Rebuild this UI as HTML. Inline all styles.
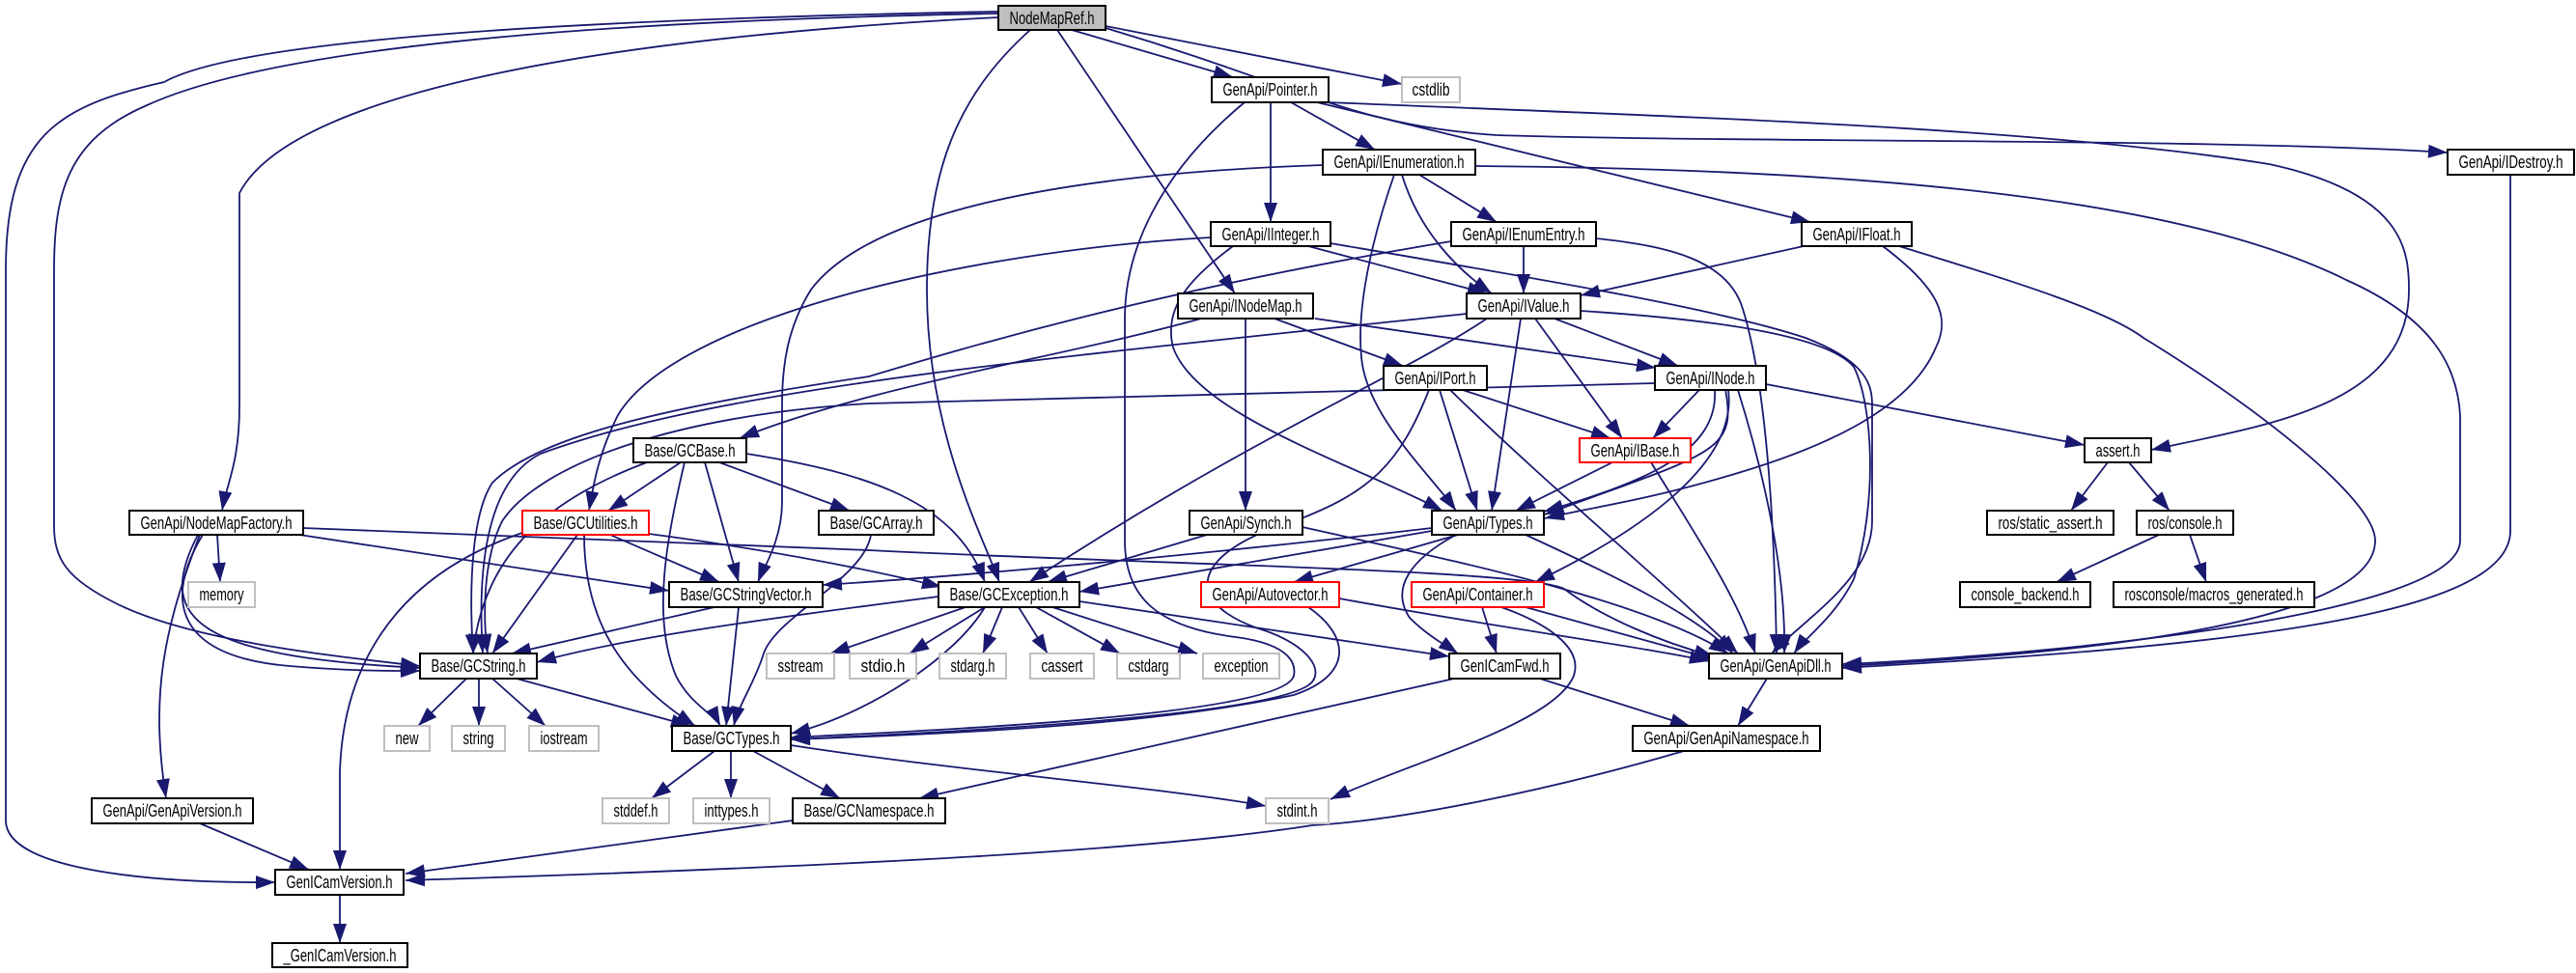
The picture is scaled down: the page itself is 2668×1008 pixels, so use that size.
<!DOCTYPE html>
<html><head><meta charset="utf-8"><style>
html,body{margin:0;padding:0;background:#fff;}
svg{display:block;}
text{font-family:"Liberation Sans Narrow","Liberation Sans",sans-serif;font-size:18px;fill:#000;}
.e{fill:none;stroke:#191970;stroke-width:1.8;marker-end:url(#a);}
.n{fill:#fff;stroke:#000;stroke-width:2;}
.g{fill:#fff;stroke:#bfbfbf;stroke-width:2;}
.r{fill:#fff;stroke:#ff0000;stroke-width:2;}
</style></head><body>
<svg width="2668" height="1008" viewBox="0 0 2668 1008" xmlns="http://www.w3.org/2000/svg">
<defs><marker id="a" markerUnits="userSpaceOnUse" markerWidth="22" markerHeight="16" refX="20" refY="7" orient="auto"><path d="M0,0 L20,7 L0,14 z" fill="#191970"/></marker></defs>
<g>
<path class="e" d="M1110 31 L1277 80"/>
<path class="e" d="M1145 27 L1452 87"/>
<path class="e" d="M1145 29 C1350 90 1400 130 1550 140 C1800 148 2300 143 2535 158"/>
<path class="e" d="M1376 106 C1700 120 2100 130 2350 170 C2490 200 2495 260 2495 300 C2495 420 2350 440 2228 466"/>
<path class="e" d="M1095 31 L1279 304"/>
<path class="e" d="M1067 31 C990 100 960 180 960 300 C960 450 1020 560 1035 603"/>
<path class="e" d="M1034 14 C700 20 300 40 150 110 C70 145 56 200 56 280 L56 545 C56 580 70 600 120 625 C200 665 350 680 435 690"/>
<path class="e" d="M1034 12 C600 20 250 40 170 85 C60 110 6 140 6 280 L6 850 C6 900 150 915 285 914"/>
<path class="e" d="M1034 18 C600 40 300 100 248 200 L248 420 C248 480 235 500 230 529"/>
<path class="e" d="M1337 106 L1424 155"/>
<path class="e" d="M1316 106 L1316 230"/>
<path class="e" d="M1364 106 L1875 230"/>
<path class="e" d="M1289 106 C1200 180 1165 260 1165 330 L1165 560 C1165 620 1200 650 1280 660 C1340 668 1342 690 1340 700 C1330 740 1000 755 819 764"/>
<path class="e" d="M1370 171 C1100 180 900 220 840 300 C815 340 810 380 810 420 L810 520 C810 560 790 590 785 603"/>
<path class="e" d="M1444 181 C1420 250 1405 320 1410 370 C1415 430 1480 490 1508 529"/>
<path class="e" d="M1452 181 C1470 240 1510 280 1545 304"/>
<path class="e" d="M1470 181 L1550 230"/>
<path class="e" d="M1528 172 C1900 175 2250 200 2430 290 C2520 330 2545 380 2548 430 L2548 560 C2548 640 2100 680 1908 688"/>
<path class="e" d="M1355 255 L1540 304"/>
<path class="e" d="M1277 255 C1230 290 1205 320 1215 360 C1240 430 1400 480 1494 529"/>
<path class="e" d="M1254 246 C1000 260 700 330 640 430 C620 470 615 500 610 529"/>
<path class="e" d="M1378 252 C1600 290 1780 320 1870 350 C1935 375 1939 400 1939 420 L1939 540 C1939 600 1870 640 1835 677"/>
<path class="e" d="M1578 255 L1578 304"/>
<path class="e" d="M1503 250 C1200 300 1000 360 900 390 C700 420 560 450 510 500 C490 530 485 600 490 677"/>
<path class="e" d="M1653 247 C1730 255 1790 270 1805 320 C1830 400 1838 550 1840 677"/>
<path class="e" d="M1868 255 L1637 306"/>
<path class="e" d="M1950 255 C2010 300 2020 330 2005 360 C1980 420 1900 460 1800 490 C1700 520 1650 525 1600 537"/>
<path class="e" d="M1967 255 C2080 290 2180 320 2220 350 C2350 430 2460 520 2460 560 C2460 640 2200 675 1908 690"/>
<path class="e" d="M2600 181 L2600 550 C2600 640 2300 670 1908 692"/>
<path class="e" d="M1244 330 C1100 370 900 400 766 454"/>
<path class="e" d="M1290 330 L1290 529"/>
<path class="e" d="M1320 330 L1453 379"/>
<path class="e" d="M1362 330 L1715 381"/>
<path class="e" d="M1519 325 C1100 370 750 400 560 470 C500 500 495 600 500 677"/>
<path class="e" d="M1540 330 C1450 390 1300 450 1066 603"/>
<path class="e" d="M1575 330 L1545 529"/>
<path class="e" d="M1590 330 L1680 454"/>
<path class="e" d="M1610 330 L1738 379"/>
<path class="e" d="M1637 322 C1760 330 1890 345 1920 380 C1940 420 1945 520 1920 600 C1900 640 1870 660 1858 677"/>
<path class="e" d="M1515 404 L1668 454"/>
<path class="e" d="M1491 404 L1530 529"/>
<path class="e" d="M1502 404 C1600 500 1720 600 1800 677"/>
<path class="e" d="M1480 404 C1450 480 1420 510 1340 540 C1240 570 1220 620 1300 650 C1350 665 1370 690 1360 705 C1340 740 1000 758 819 766"/>
<path class="e" d="M1760 404 L1712 454"/>
<path class="e" d="M1776 404 C1780 470 1700 500 1599 530"/>
<path class="e" d="M1787 404 C1800 470 1770 470 1600 533"/>
<path class="e" d="M1790 404 C1800 480 1700 550 1590 603"/>
<path class="e" d="M1800 404 C1830 500 1850 600 1848 677"/>
<path class="e" d="M1829 398 L2159 461"/>
<path class="e" d="M1714 397 C1300 410 1000 415 900 418 C700 430 560 480 520 540 C500 580 500 640 505 677"/>
<path class="e" d="M1670 479 L1570 529"/>
<path class="e" d="M1710 479 C1760 560 1800 620 1818 677"/>
<path class="e" d="M705 479 L630 529"/>
<path class="e" d="M730 479 L765 603"/>
<path class="e" d="M670 479 C560 520 500 580 490 677"/>
<path class="e" d="M709 479 C690 560 675 640 700 700 C715 730 740 740 746 752"/>
<path class="e" d="M745 479 L880 529"/>
<path class="e" d="M773 470 C900 490 990 520 1020 603"/>
<path class="e" d="M598 554 L510 677"/>
<path class="e" d="M632 554 L745 603"/>
<path class="e" d="M605 554 C605 640 640 700 720 752"/>
<path class="e" d="M672 553 C800 570 900 590 975 608"/>
<path class="e" d="M541 552 C400 600 355 700 352 800 L352 901"/>
<path class="e" d="M902 554 C895 600 800 640 790 680 C780 710 765 730 760 752"/>
<path class="e" d="M225 554 L228 603"/>
<path class="e" d="M210 554 C170 620 180 680 300 690 C360 695 400 695 435 695"/>
<path class="e" d="M205 554 C160 640 200 680 435 692"/>
<path class="e" d="M310 554 L693 612"/>
<path class="e" d="M207 554 C170 650 155 720 172 827"/>
<path class="e" d="M314 547 C600 560 800 565 900 570 C1200 585 1580 590 1620 610 C1660 640 1720 665 1775 680"/>
<path class="e" d="M1250 554 L1085 603"/>
<path class="e" d="M1349 546 C1500 580 1700 620 1790 677"/>
<path class="e" d="M1483 550 L1118 613"/>
<path class="e" d="M1483 547 C1200 580 950 600 852 606"/>
<path class="e" d="M1510 554 L1340 603"/>
<path class="e" d="M1508 554 C1460 580 1440 610 1460 640 C1480 660 1500 670 1510 677"/>
<path class="e" d="M1580 554 C1680 600 1760 640 1795 677"/>
<path class="e" d="M740 629 L530 677"/>
<path class="e" d="M765 629 L752 752"/>
<path class="e" d="M972 618 C800 640 650 660 556 686"/>
<path class="e" d="M1020 629 C990 680 900 740 819 760"/>
<path class="e" d="M1000 629 L860 677"/>
<path class="e" d="M1020 629 L942 677"/>
<path class="e" d="M1038 629 L1018 677"/>
<path class="e" d="M1055 629 L1085 677"/>
<path class="e" d="M1073 629 L1160 677"/>
<path class="e" d="M1090 629 L1240 677"/>
<path class="e" d="M1118 623 C1300 650 1400 665 1501 680"/>
<path class="e" d="M1355 629 C1400 660 1400 700 1340 720 C1200 750 1000 760 819 766"/>
<path class="e" d="M1387 620 C1550 650 1700 670 1770 685"/>
<path class="e" d="M1535 629 L1550 677"/>
<path class="e" d="M1580 629 L1775 683"/>
<path class="e" d="M1555 629 C1600 645 1640 670 1630 700 C1610 750 1460 790 1378 828"/>
<path class="e" d="M483 703 L433 752"/>
<path class="e" d="M496 703 L496 752"/>
<path class="e" d="M510 703 L565 752"/>
<path class="e" d="M535 703 L715 752"/>
<path class="e" d="M740 778 L675 827"/>
<path class="e" d="M757 778 L757 827"/>
<path class="e" d="M780 778 L870 827"/>
<path class="e" d="M819 772 C1000 800 1200 815 1311 835"/>
<path class="e" d="M1595 703 L1750 752"/>
<path class="e" d="M1506 703 L952 827"/>
<path class="e" d="M1830 703 L1800 752"/>
<path class="e" d="M1744 778 C1600 820 1450 850 1359 855 C1200 880 900 897 420 912"/>
<path class="e" d="M821 850 L420 905"/>
<path class="e" d="M207 853 L320 901"/>
<path class="e" d="M352 927 L352 977"/>
<path class="e" d="M2183 479 L2145 529"/>
<path class="e" d="M2205 479 L2247 529"/>
<path class="e" d="M2236 554 L2130 603"/>
<path class="e" d="M2268 554 L2285 603"/>
</g>
<g text-anchor="middle">
<rect x="1034" y="6" width="111" height="25" fill="#bfbfbf" stroke="#000" stroke-width="2"/><text x="1089.5" y="25" textLength="88" lengthAdjust="spacingAndGlyphs">NodeMapRef.h</text>
<rect class="n" x="1255" y="80" width="121" height="26"/><text x="1315.5" y="99" textLength="98" lengthAdjust="spacingAndGlyphs">GenApi/Pointer.h</text>
<rect class="g" x="1452" y="80" width="60" height="26"/><text x="1482" y="99" textLength="39" lengthAdjust="spacingAndGlyphs">cstdlib</text>
<rect class="n" x="1370" y="155" width="158" height="26"/><text x="1449" y="174" textLength="135" lengthAdjust="spacingAndGlyphs">GenApi/IEnumeration.h</text>
<rect class="n" x="2535" y="155" width="131" height="26"/><text x="2600.5" y="174" textLength="108" lengthAdjust="spacingAndGlyphs">GenApi/IDestroy.h</text>
<rect class="n" x="1254" y="230" width="124" height="25"/><text x="1316" y="249" textLength="101" lengthAdjust="spacingAndGlyphs">GenApi/IInteger.h</text>
<rect class="n" x="1503" y="230" width="150" height="25"/><text x="1578" y="249" textLength="127" lengthAdjust="spacingAndGlyphs">GenApi/IEnumEntry.h</text>
<rect class="n" x="1866" y="230" width="114" height="25"/><text x="1923" y="249" textLength="91" lengthAdjust="spacingAndGlyphs">GenApi/IFloat.h</text>
<rect class="n" x="1220" y="304" width="140" height="26"/><text x="1290" y="323" textLength="117" lengthAdjust="spacingAndGlyphs">GenApi/INodeMap.h</text>
<rect class="n" x="1519" y="304" width="118" height="26"/><text x="1578" y="323" textLength="95" lengthAdjust="spacingAndGlyphs">GenApi/IValue.h</text>
<rect class="n" x="1433" y="379" width="107" height="25"/><text x="1486.5" y="398" textLength="84" lengthAdjust="spacingAndGlyphs">GenApi/IPort.h</text>
<rect class="n" x="1714" y="379" width="115" height="25"/><text x="1771.5" y="398" textLength="92" lengthAdjust="spacingAndGlyphs">GenApi/INode.h</text>
<rect class="n" x="656" y="454" width="117" height="25"/><text x="714.5" y="473" textLength="94" lengthAdjust="spacingAndGlyphs">Base/GCBase.h</text>
<rect class="r" x="1636" y="454" width="115" height="25"/><text x="1693.5" y="473" textLength="92" lengthAdjust="spacingAndGlyphs">GenApi/IBase.h</text>
<rect class="n" x="2159" y="454" width="69" height="25"/><text x="2193.5" y="473" textLength="46" lengthAdjust="spacingAndGlyphs">assert.h</text>
<rect class="n" x="134" y="529" width="180" height="25"/><text x="224" y="548" textLength="157" lengthAdjust="spacingAndGlyphs">GenApi/NodeMapFactory.h</text>
<rect class="r" x="541" y="529" width="131" height="25"/><text x="606.5" y="548" textLength="108" lengthAdjust="spacingAndGlyphs">Base/GCUtilities.h</text>
<rect class="n" x="848" y="529" width="119" height="25"/><text x="907.5" y="548" textLength="96" lengthAdjust="spacingAndGlyphs">Base/GCArray.h</text>
<rect class="n" x="1232" y="529" width="117" height="25"/><text x="1290.5" y="548" textLength="94" lengthAdjust="spacingAndGlyphs">GenApi/Synch.h</text>
<rect class="n" x="1483" y="529" width="116" height="25"/><text x="1541" y="548" textLength="93" lengthAdjust="spacingAndGlyphs">GenApi/Types.h</text>
<rect class="n" x="2058" y="529" width="131" height="25"/><text x="2123.5" y="548" textLength="108" lengthAdjust="spacingAndGlyphs">ros/static_assert.h</text>
<rect class="n" x="2213" y="529" width="100" height="25"/><text x="2263" y="548" textLength="77" lengthAdjust="spacingAndGlyphs">ros/console.h</text>
<rect class="g" x="195" y="603" width="69" height="26"/><text x="229.5" y="622" textLength="46" lengthAdjust="spacingAndGlyphs">memory</text>
<rect class="n" x="693" y="603" width="159" height="26"/><text x="772.5" y="622" textLength="136" lengthAdjust="spacingAndGlyphs">Base/GCStringVector.h</text>
<rect class="n" x="972" y="603" width="146" height="26"/><text x="1045" y="622" textLength="123" lengthAdjust="spacingAndGlyphs">Base/GCException.h</text>
<rect class="r" x="1244" y="603" width="143" height="26"/><text x="1315.5" y="622" textLength="120" lengthAdjust="spacingAndGlyphs">GenApi/Autovector.h</text>
<rect class="r" x="1462" y="603" width="137" height="26"/><text x="1530.5" y="622" textLength="114" lengthAdjust="spacingAndGlyphs">GenApi/Container.h</text>
<rect class="n" x="2030" y="603" width="135" height="26"/><text x="2097.5" y="622" textLength="112" lengthAdjust="spacingAndGlyphs">console_backend.h</text>
<rect class="n" x="2189" y="603" width="208" height="26"/><text x="2293" y="622" textLength="185" lengthAdjust="spacingAndGlyphs">rosconsole/macros_generated.h</text>
<rect class="n" x="435" y="677" width="121" height="26"/><text x="495.5" y="696" textLength="98" lengthAdjust="spacingAndGlyphs">Base/GCString.h</text>
<rect class="g" x="794" y="677" width="70" height="26"/><text x="829" y="696" textLength="47" lengthAdjust="spacingAndGlyphs">sstream</text>
<rect class="g" x="880" y="677" width="69" height="26"/><text x="914.5" y="696" textLength="46" lengthAdjust="spacingAndGlyphs">stdio.h</text>
<rect class="g" x="973" y="677" width="69" height="26"/><text x="1007.5" y="696" textLength="46" lengthAdjust="spacingAndGlyphs">stdarg.h</text>
<rect class="g" x="1067" y="677" width="66" height="26"/><text x="1100" y="696" textLength="43" lengthAdjust="spacingAndGlyphs">cassert</text>
<rect class="g" x="1157" y="677" width="65" height="26"/><text x="1189.5" y="696" textLength="42" lengthAdjust="spacingAndGlyphs">cstdarg</text>
<rect class="g" x="1246" y="677" width="79" height="26"/><text x="1285.5" y="696" textLength="56" lengthAdjust="spacingAndGlyphs">exception</text>
<rect class="n" x="1501" y="677" width="115" height="26"/><text x="1558.5" y="696" textLength="92" lengthAdjust="spacingAndGlyphs">GenICamFwd.h</text>
<rect class="n" x="1770" y="677" width="138" height="26"/><text x="1839" y="696" textLength="115" lengthAdjust="spacingAndGlyphs">GenApi/GenApiDll.h</text>
<rect class="g" x="398" y="752" width="47" height="26"/><text x="421.5" y="771" textLength="24" lengthAdjust="spacingAndGlyphs">new</text>
<rect class="g" x="468" y="752" width="55" height="26"/><text x="495.5" y="771" textLength="32" lengthAdjust="spacingAndGlyphs">string</text>
<rect class="g" x="548" y="752" width="72" height="26"/><text x="584" y="771" textLength="49" lengthAdjust="spacingAndGlyphs">iostream</text>
<rect class="n" x="696" y="752" width="123" height="26"/><text x="757.5" y="771" textLength="100" lengthAdjust="spacingAndGlyphs">Base/GCTypes.h</text>
<rect class="n" x="1691" y="752" width="194" height="26"/><text x="1788" y="771" textLength="171" lengthAdjust="spacingAndGlyphs">GenApi/GenApiNamespace.h</text>
<rect class="n" x="95" y="827" width="167" height="26"/><text x="178.5" y="846" textLength="144" lengthAdjust="spacingAndGlyphs">GenApi/GenApiVersion.h</text>
<rect class="g" x="624" y="827" width="69" height="26"/><text x="658.5" y="846" textLength="46" lengthAdjust="spacingAndGlyphs">stddef.h</text>
<rect class="g" x="718" y="827" width="79" height="26"/><text x="757.5" y="846" textLength="56" lengthAdjust="spacingAndGlyphs">inttypes.h</text>
<rect class="n" x="821" y="827" width="158" height="26"/><text x="900" y="846" textLength="135" lengthAdjust="spacingAndGlyphs">Base/GCNamespace.h</text>
<rect class="g" x="1311" y="827" width="65" height="26"/><text x="1343.5" y="846" textLength="42" lengthAdjust="spacingAndGlyphs">stdint.h</text>
<rect class="n" x="285" y="901" width="133" height="26"/><text x="351.5" y="920" textLength="110" lengthAdjust="spacingAndGlyphs">GenICamVersion.h</text>
<rect class="n" x="282" y="977" width="140" height="25"/><text x="352" y="996" textLength="117" lengthAdjust="spacingAndGlyphs">_GenICamVersion.h</text>
</g>
</svg>
</body></html>
